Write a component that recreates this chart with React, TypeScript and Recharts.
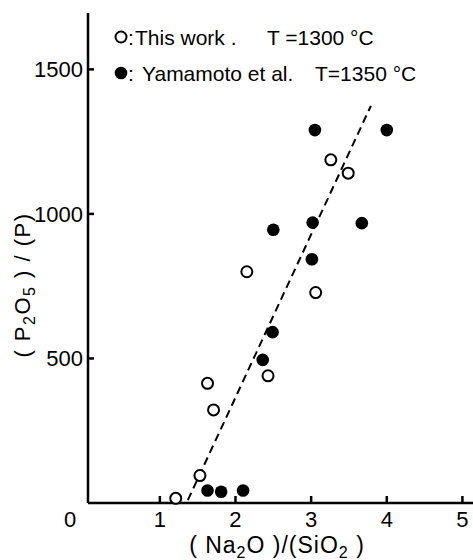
import { ScatterChart, Scatter, XAxis, YAxis, ReferenceLine, Legend, Label } from 'recharts'

const FONT = '"Liberation Sans", Arial, sans-serif'

// open circles: this work, T = 1300 °C
const thisWorkX = [3.26, 3.49, 2.15, 3.06, 2.43, 1.63, 1.71, 1.53, 1.21]
const thisWorkY = [1187, 1141, 800, 728, 440, 414, 322, 95, 16]
// filled circles: Yamamoto et al., T = 1350 °C
const yamamotoX = [3.05, 4.0, 3.02, 3.67, 2.5, 3.01, 2.49, 2.36, 1.63, 1.81, 2.1]
const yamamotoY = [1290, 1290, 970, 968, 945, 843, 591, 495, 43, 39, 43]
// dashed trend line end points
const fitX = [1.37, 3.79]
const fitY = [10, 1374]

const xTicks = [1, 2, 3, 4, 5]
const yTicks = [0, 500, 1000, 1500]

const thisWork = thisWorkX.map((x, i) => ({ x, y: thisWorkY[i] }))
const yamamoto = yamamotoX.map((x, i) => ({ x, y: yamamotoY[i] }))
const fitSegment = fitX.map((x, i) => ({ x, y: fitY[i] }))

const OpenDot = (p: any) => <circle cx={p.cx} cy={p.cy} r={5.5} fill="#fff" stroke="#000" strokeWidth={2} />
const FilledDot = (p: any) => <circle cx={p.cx} cy={p.cy} r={6.3} fill="#000" />

function XTick({ x, y, payload }: any) {
  return (
    <g>
      <line x1={x} x2={x} y1={y} y2={y - 7} stroke="#000" strokeWidth={2.5} />
      <text x={x} y={y + 24} textAnchor="middle" fontSize={22} fontFamily={FONT} fill="#000">{payload.value}</text>
    </g>
  )
}

function YTick({ x, y, payload }: any) {
  if (payload.value === 0) {
    return <text x={x - 18} y={y + 24} textAnchor="middle" fontSize={22} fontFamily={FONT} fill="#000">0</text>
  }
  return (
    <g>
      <line x1={x} x2={x + 6} y1={y} y2={y} stroke="#000" strokeWidth={2.5} />
      <text x={x - 5} y={y + 8} textAnchor="end" fontSize={22} fontFamily={FONT} fill="#000">{payload.value}</text>
    </g>
  )
}

function LegendBox() {
  const t = { fontSize: 21, fontFamily: FONT, fill: '#000' }
  return (
    <svg width={330} height={70} style={{ display: 'block' }}>
      <circle cx={16} cy={15} r={5.5} fill="#fff" stroke="#000" strokeWidth={2} />
      <text x={23} y={23} {...t}>:</text>
      <text x={30} y={23} {...t}>This work .</text>
      <text x={162} y={23} {...t}>T =1300 °C</text>
      <circle cx={16} cy={51} r={6.3} fill="#000" />
      <text x={23} y={59} {...t}>:</text>
      <text x={37} y={59} {...t}>Yamamoto et al.</text>
      <text x={210} y={59} {...t}>T=1350 °C</text>
    </svg>
  )
}

function XTitle() {
  return (
    <text x={277} y={553} textAnchor="middle" fontSize={23} letterSpacing={1} fontFamily={FONT} fill="#000">
      ( Na<tspan dy={5} fontSize={16}>2</tspan><tspan dy={-5}>O )/(SiO</tspan><tspan dy={5} fontSize={16}>2</tspan><tspan dy={-5}> )</tspan>
    </text>
  )
}

function YTitle() {
  return (
    <text x={0} y={0} transform="translate(30,285) rotate(-90)" textAnchor="middle" fontSize={22} letterSpacing={1.5} fontFamily={FONT} fill="#000">
      ( P<tspan dy={5} fontSize={16}>2</tspan><tspan dy={-5}>O</tspan><tspan dy={5} fontSize={16}>5</tspan><tspan dy={-5}> ) / (P)</tspan>
    </text>
  )
}

export default function App() {
  return (
    <div style={{ position: 'absolute', left: 0, top: 0, width: 473, height: 560, background: '#fff' }}>
      <ScatterChart width={473} height={560} margin={{ top: 13, right: 0, bottom: 0, left: 0 }}>
        <XAxis
          dataKey="x"
          type="number"
          domain={[0.05, 5.14]}
          ticks={xTicks}
          height={57}
          tickSize={0}
          tickMargin={0}
          tick={<XTick />}
          axisLine={{ stroke: '#000', strokeWidth: 2.5 }}
        >
          <Label content={<XTitle />} />
        </XAxis>
        <XAxis xAxisId="top" orientation="top" type="number" domain={[0.05, 5.14]} height={0} tick={false} tickLine={false} axisLine={{ stroke: '#000', strokeWidth: 2 }} />
        <YAxis
          dataKey="y"
          type="number"
          domain={[0, 1695]}
          ticks={yTicks}
          width={88}
          tickSize={0}
          tickMargin={0}
          tick={<YTick />}
          axisLine={{ stroke: '#000', strokeWidth: 2.5 }}
        >
          <Label content={<YTitle />} />
        </YAxis>
        <Legend
          layout="vertical"
          align="center"
          verticalAlign="middle"
          content={<LegendBox />}
          wrapperStyle={{ position: 'absolute', left: 105, top: 22, width: 330, height: 70 }}
        />
        <ReferenceLine segment={fitSegment} stroke="#000" strokeWidth={2} strokeDasharray="8 5" />
        <Scatter name="This work" data={thisWork} shape={OpenDot} isAnimationActive={false} />
        <Scatter name="Yamamoto et al." data={yamamoto} shape={FilledDot} isAnimationActive={false} />
      </ScatterChart>
    </div>
  )
}
